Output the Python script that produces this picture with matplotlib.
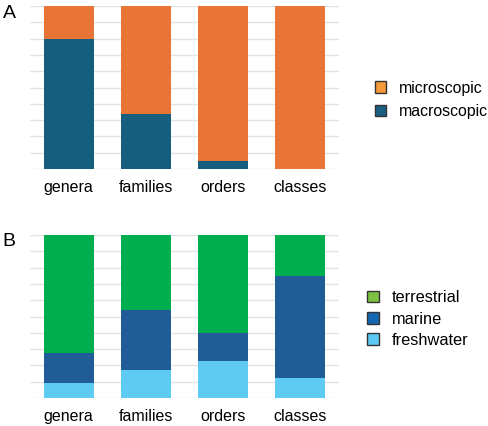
import numpy as np
import matplotlib.pyplot as plt
from matplotlib.patches import Patch

plt.rcParams['font.family'] = ['Liberation Sans', 'DejaVu Sans']

categorias = ["genera", "families", "orders", "classes"]

# Panel A (porcentaje)
macroscopic = [80, 34, 5, 0]
microscopic = [20, 66, 95, 100]

# Panel B (porcentaje)
freshwater = [9, 17, 22.6, 12.4]
marine = [18.6, 37, 17.2, 62.3]
terrestrial = [72.4, 46, 60.2, 25.3]

W, H = 488, 426
fig = plt.figure(figsize=(W / 100, H / 100), dpi=100)

def ejes(top, bottom):
    ax = fig.add_axes([30 / W, 1 - bottom / H, 309 / W, (bottom - top) / H])
    ax.set_xlim(-0.5, 3.5)
    ax.set_ylim(0, 100)
    ax.set_yticks(np.arange(0, 101, 10))
    ax.set_yticklabels([])
    ax.grid(axis="y", color="#e3e3e3", linewidth=1)
    ax.set_axisbelow(True)
    for s in ax.spines.values():
        s.set_visible(False)
    ax.tick_params(length=0, axis="both", labelsize=11.5, pad=8)
    ax.set_xticks(range(4))
    ax.set_xticklabels(categorias)
    return ax

x = np.arange(4)
w = 0.65

# Panel A
axA = ejes(6, 169)
axA.bar(x, macroscopic, w, color="#165e7e")
axA.bar(x, microscopic, w, bottom=macroscopic, color="#e87435")
fig.text(9 / W, 1 - 14 / H, "A", fontsize=14, ha="center", va="center")
hA = [Patch(facecolor="#f5993a", edgecolor="#333333", label="microscopic"),
      Patch(facecolor="#1a5f84", edgecolor="#333333", label="macroscopic")]
fig.legend(handles=hA, loc="center left", bbox_to_anchor=(367 / W, 1 - 100 / H),
           frameon=False, fontsize=11.4, handlelength=0.72, handleheight=0.72,
           handletextpad=0.8, labelspacing=0.55, borderpad=0)

# Panel B
axB = ejes(235, 398)
axB.bar(x, freshwater, w, color="#5ecbf2")
axB.bar(x, marine, w, bottom=freshwater, color="#1f5c98")
axB.bar(x, terrestrial, w, bottom=np.add(freshwater, marine), color="#00ad4f")
fig.text(9 / W, 1 - 242 / H, "B", fontsize=14, ha="center", va="center")
hB = [Patch(facecolor="#7cc142", edgecolor="#333333", label="terrestrial"),
      Patch(facecolor="#1466b1", edgecolor="#333333", label="marine"),
      Patch(facecolor="#5ec8f5", edgecolor="#333333", label="freshwater")]
fig.legend(handles=hB, loc="center left", bbox_to_anchor=(359 / W, 1 - 319 / H),
           frameon=False, fontsize=11.8, handlelength=0.7, handleheight=0.7,
           handletextpad=0.8, labelspacing=0.38, borderpad=0)

fig.savefig("out.png", dpi=100)
